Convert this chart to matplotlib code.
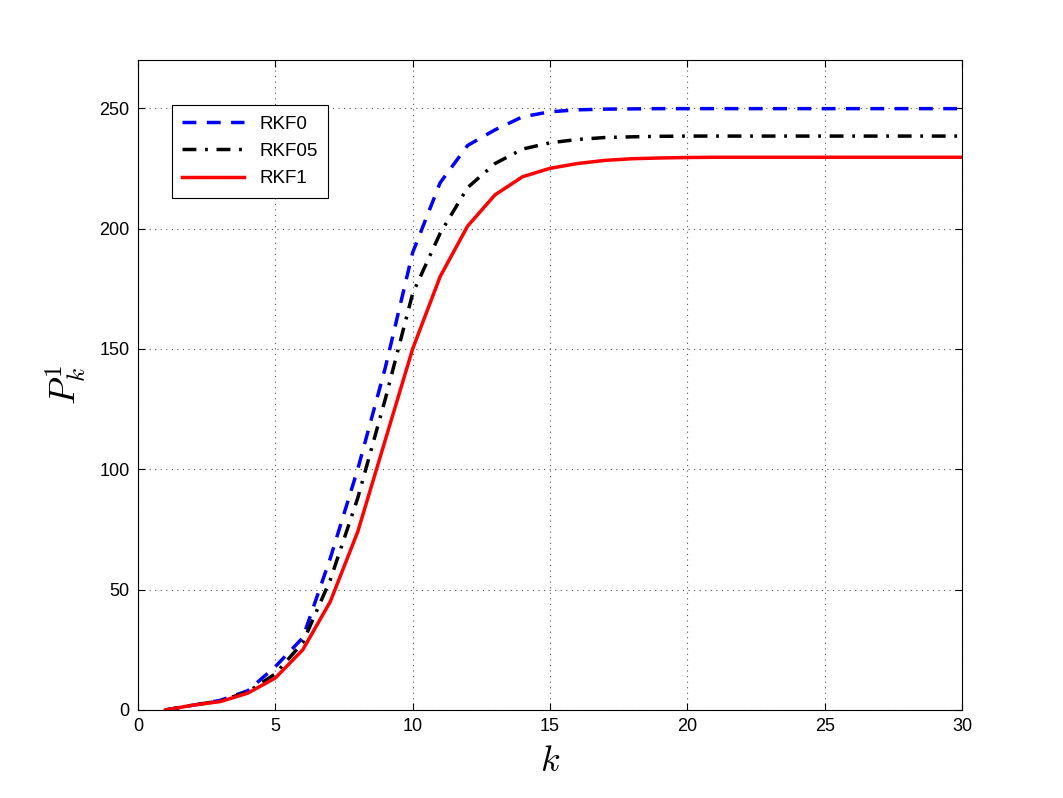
import numpy as np
import matplotlib.pyplot as plt

plt.rcParams['font.family'] = ['Liberation Sans', 'DejaVu Sans']
plt.rcParams['mathtext.fontset'] = 'cm'

k = np.arange(1, 31)
rkf0 = [0, 2, 4, 8, 18, 30, 63, 100, 142, 190, 219, 234.5, 241, 246.4, 248.5,
        249.3, 249.6, 249.7, 249.8, 249.8, 249.8, 249.8, 249.8, 249.8, 249.8,
        249.8, 249.8, 249.8, 249.8, 249.8]
rkf05 = [0, 2, 3.8, 7.5, 15, 28, 54, 88, 129, 173, 198, 217, 227, 233, 235.6,
         237, 237.8, 238.1, 238.3, 238.4, 238.4, 238.4, 238.4, 238.4, 238.4,
         238.4, 238.4, 238.4, 238.4, 238.4]
rkf1 = [0, 2, 3.5, 7, 13.3, 25, 45, 74, 112, 150, 180, 201, 214, 221.5, 225,
        227, 228.3, 229, 229.3, 229.5, 229.6, 229.6, 229.6, 229.6, 229.6,
        229.6, 229.6, 229.6, 229.6, 229.6]

fig = plt.figure(figsize=(10.63, 7.98), dpi=100)
ax = fig.add_axes([0.1298, 0.1103, 0.7752, 0.8145])
ax.plot(k, rkf0, color='blue', linestyle=(0, (4, 3)), linewidth=2.5, label='RKF0')
ax.plot(k, rkf05, color='black', linestyle=(0, (4, 2.5, 0.8, 2.5)), linewidth=2.5, label='RKF05')
ax.plot(k, rkf1, color='red', linestyle='-', linewidth=2.5, label='RKF1')

ax.set_xlim(0, 30)
ax.set_ylim(0, 270)
ax.set_xticks(np.arange(0, 31, 5))
ax.set_yticks(np.arange(0, 251, 50))
ax.tick_params(direction='in', labelsize=13, top=True, right=True, length=5, pad=6)
ax.grid(True, color='#555555', linestyle=(0, (1, 4)), linewidth=0.8)
ax.set_xlabel('$k$', fontsize=26, labelpad=6)
ax.set_ylabel('$P_k^1$', fontsize=26, labelpad=8)

leg = ax.legend(loc='upper left', bbox_to_anchor=(0.03, 0.945), fontsize=13.5,
                fancybox=False, framealpha=1, edgecolor='black',
                handlelength=3.3, borderpad=0.55, labelspacing=0.55)
leg.get_frame().set_linewidth(0.8)

fig.savefig('out.png', dpi=100)
